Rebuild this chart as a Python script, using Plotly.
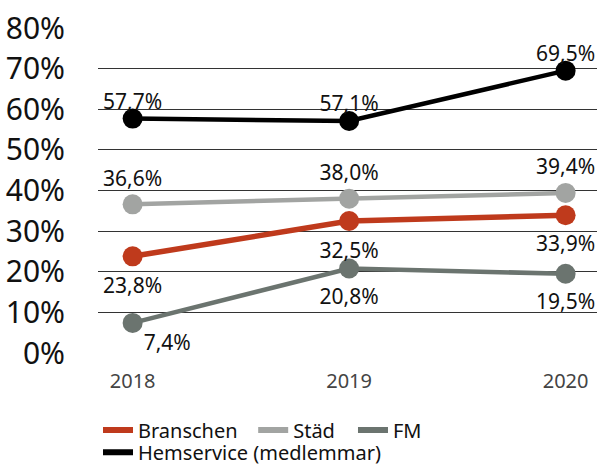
import plotly.graph_objects as go

years = ["2018", "2019", "2020"]
branschen = [23.8, 32.5, 33.9]
stad = [36.6, 38.0, 39.4]
fm = [7.4, 20.8, 19.5]
hemservice = [57.7, 57.1, 69.5]
y_ticks = [0, 10, 20, 30, 40, 50, 60, 70, 80]

FONT = "Noto Sans"


def fmt(v):
    return f"{v:.1f}".replace(".", ",") + "%"


# name, values, colour, line width, label positions, invisible label-marker sizes, legend id
series = [
    ("Städ", stad, "#A2A4A2", 4.5, ["top center"] * 3, [20, 20, 20], "legend2"),
    ("FM", fm, "#6B746F", 4.5, ["bottom right", "bottom center", "bottom center"], [16, 30, 30], "legend3"),
    ("Branschen", branschen, "#BF3A1C", 5.5, ["bottom center"] * 3, [32, 32, 30], "legend"),
    ("Hemservice (medlemmar)", hemservice, "#000000", 4.5, ["top center"] * 3, [6, 6, 6], "legend4"),
]

fig = go.Figure()
for name, vals, color, w, tpos, tsize, leg in series:
    fig.add_trace(go.Scatter(
        x=years, y=vals, name=name, mode="lines+markers",
        line=dict(color=color, width=w),
        marker=dict(color=color, size=20, line=dict(width=0)),
        cliponaxis=False, showlegend=False, hoverinfo="skip",
    ))
# value labels (offset from points via invisible marker size)
for name, vals, color, w, tpos, tsize, leg in series:
    fig.add_trace(go.Scatter(
        x=years, y=vals, mode="markers+text",
        marker=dict(size=tsize, color="rgba(0,0,0,0)", line=dict(width=0, color="rgba(0,0,0,0)")),
        text=[fmt(v) for v in vals], textposition=tpos,
        textfont=dict(family=FONT, size=21, color="#111111"),
        cliponaxis=False, showlegend=False, hoverinfo="skip",
    ))
# legend-only entries (line symbol only), one legend box per entry
for name, vals, color, w, tpos, tsize, leg in series:
    fig.add_trace(go.Scatter(
        x=[None], y=[None], name=name, mode="lines",
        line=dict(color=color, width=6), showlegend=True, legend=leg,
    ))

leg_common = dict(
    orientation="v", xanchor="left", yanchor="top",
    font=dict(family=FONT, size=20, color="#111111"),
    bgcolor="rgba(0,0,0,0)", borderwidth=0,
)

fig.update_layout(
    width=597, height=466,
    margin=dict(l=98, r=0, t=28, b=113, autoexpand=False),
    paper_bgcolor="white", plot_bgcolor="white",
    font=dict(family=FONT, color="#111111"),
    showlegend=True,
    legend=dict(x=0.0, y=-0.177, **leg_common),
    legend2=dict(x=0.311, y=-0.177, **leg_common),
    legend3=dict(x=0.511, y=-0.177, **leg_common),
    legend4=dict(x=0.0, y=-0.245, **leg_common),
    xaxis=dict(
        type="category", range=[-0.16, 2.145], showgrid=False, zeroline=False,
        showline=False, ticks="", tickfont=dict(family=FONT, size=20, color="#444444"),
        ticklabelstandoff=14,
    ),
    yaxis=dict(
        range=[0, 80], tickvals=y_ticks, ticktext=[f"{t}%" for t in y_ticks],
        showgrid=True, gridcolor="#333333", gridwidth=1, zeroline=False,
        showline=False, ticks="", tickfont=dict(family=FONT, size=30, color="#111111"),
        ticklabelstandoff=32,
    ),
)

fig.write_html(
    "out.html",
    config={"displayModeBar": False},
    post_script="document.body.style.margin='0';",
)
